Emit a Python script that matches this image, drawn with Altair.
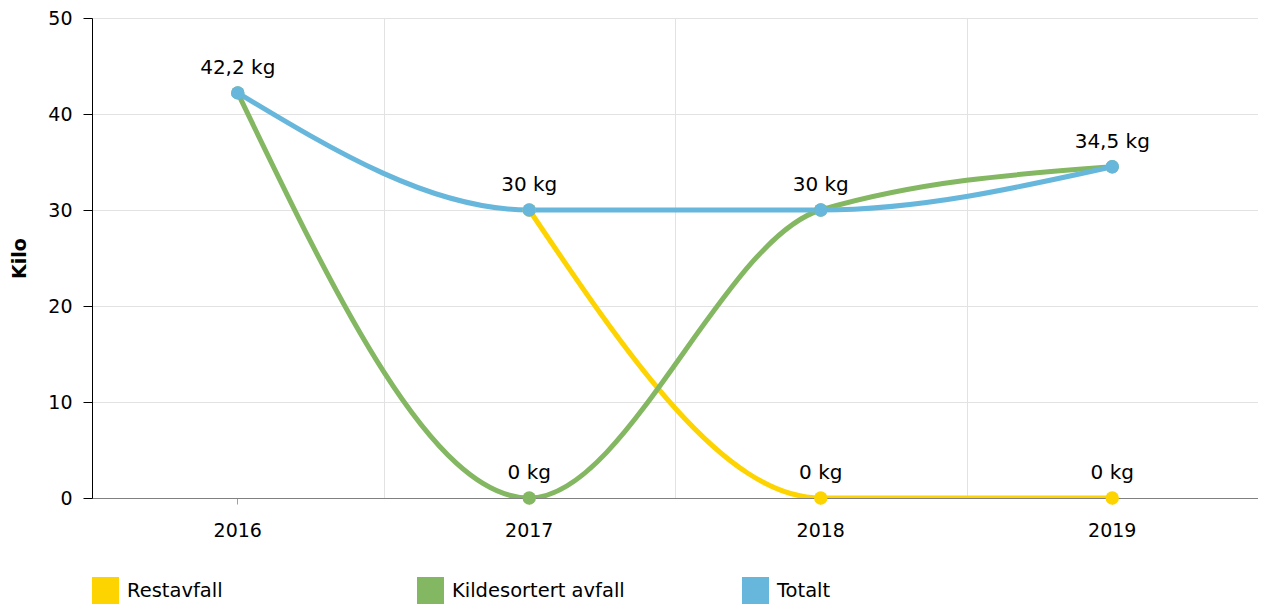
import altair as alt
import pandas as pd

years = ["2016", "2017", "2018", "2019"]
series = ["Restavfall", "Kildesortert avfall", "Totalt"]
restavfall = [None, 30, 0, 0]
kildesortert = [42.2, 0, 30, 34.5]
totalt = [42.2, 30, 30, 34.5]
colors = ["#fdd400", "#84b761", "#67b7dc"]
y_ticks = [0, 10, 20, 30, 40, 50]

FONT = "DejaVu Sans"


def fmt(v):
    s = f"{v:.1f}"
    if s.endswith(".0"):
        s = s[:-2]
    return s.replace(".", ",") + " kg"


rows = []
for s, vals in zip(series, [restavfall, kildesortert, totalt]):
    for i, (yr, v) in enumerate(zip(years, vals)):
        if v is None:
            continue
        rows.append({"year": yr, "series": s, "value": v, "idx": i,
                     "label": fmt(v),
                     "show": (s == "Totalt") or (v == 0)})
df = pd.DataFrame(rows)

xscale = alt.Scale(type="band", domain=years, paddingInner=0, paddingOuter=0)
yscale = alt.Scale(domain=[0, 50], nice=False)
cscale = alt.Scale(domain=series, range=colors)

legend = alt.Legend(
    title=None, orient="none", legendX=0, legendY=559,
    direction="horizontal", columns=3, gridAlign="all",
    columnPadding=117, symbolType="square", symbolSize=729,
    symbolStrokeWidth=0, symbolOpacity=1, labelFontSize=19.5, labelLimit=400,
    labelFont=FONT, labelColor="#000000", labelOffset=8,
)

x_main_axis = alt.Axis(
    orient="bottom", grid=False, title=None, labelAngle=0,
    domainColor="#808080", tickColor="#a0a0a0", tickSize=6,
    labelFontSize=19, labelPadding=17, labelColor="#000000", labelFont=FONT,
)
x_grid_axis = alt.Axis(
    orient="top", grid=True, tickBand="extent", labels=False, ticks=False,
    domain=False, title=None, gridColor="#e2e2e2", gridWidth=1,
)
y_axis = alt.Axis(
    values=y_ticks, grid=True, gridColor="#e2e2e2", domainColor="#000000",
    tickColor="#000000", tickSize=9, labelPadding=11, labelFontSize=19,
    labelColor="#000000", labelFont=FONT, title="Kilo", titleFontSize=19,
    titleFontWeight="bold", titleFont=FONT, titleColor="#000000", titlePadding=18,
)

base = alt.Chart(df)

lines = base.mark_line(strokeWidth=5, interpolate="monotone", clip=True).encode(
    x=alt.X("year:O", scale=xscale, bandPosition=0.5, axis=x_main_axis),
    y=alt.Y("value:Q", scale=yscale, axis=y_axis),
    color=alt.Color("series:N", scale=cscale, legend=legend),
    order=alt.Order("idx:Q"),
)

points = base.mark_circle(size=180, opacity=1).encode(
    x=alt.X("year:O", scale=xscale, bandPosition=0.5, axis=x_grid_axis),
    y=alt.Y("value:Q", scale=yscale),
    color=alt.Color("series:N", scale=cscale, legend=legend),
)

labels = base.transform_filter(alt.datum.show == True).mark_text(
    dy=-19, baseline="alphabetic", fontSize=20, font=FONT, color="#000000"
).encode(
    x=alt.X("year:O", scale=xscale, bandPosition=0.5, axis=None),
    y=alt.Y("value:Q", scale=yscale),
    text="label:N",
)

chart = (
    alt.layer(lines, points, labels)
    .resolve_axis(x="independent")
    .properties(
        width=1166, height=480,
        autosize=alt.AutoSizeParams(type="none"),
        padding={"left": 84, "top": 10, "right": 0, "bottom": 107},
    )
    .configure_view(strokeWidth=0)
    .configure(font=FONT)
)

chart.save("out.html", embed_options={"renderer": "svg", "actions": False})
